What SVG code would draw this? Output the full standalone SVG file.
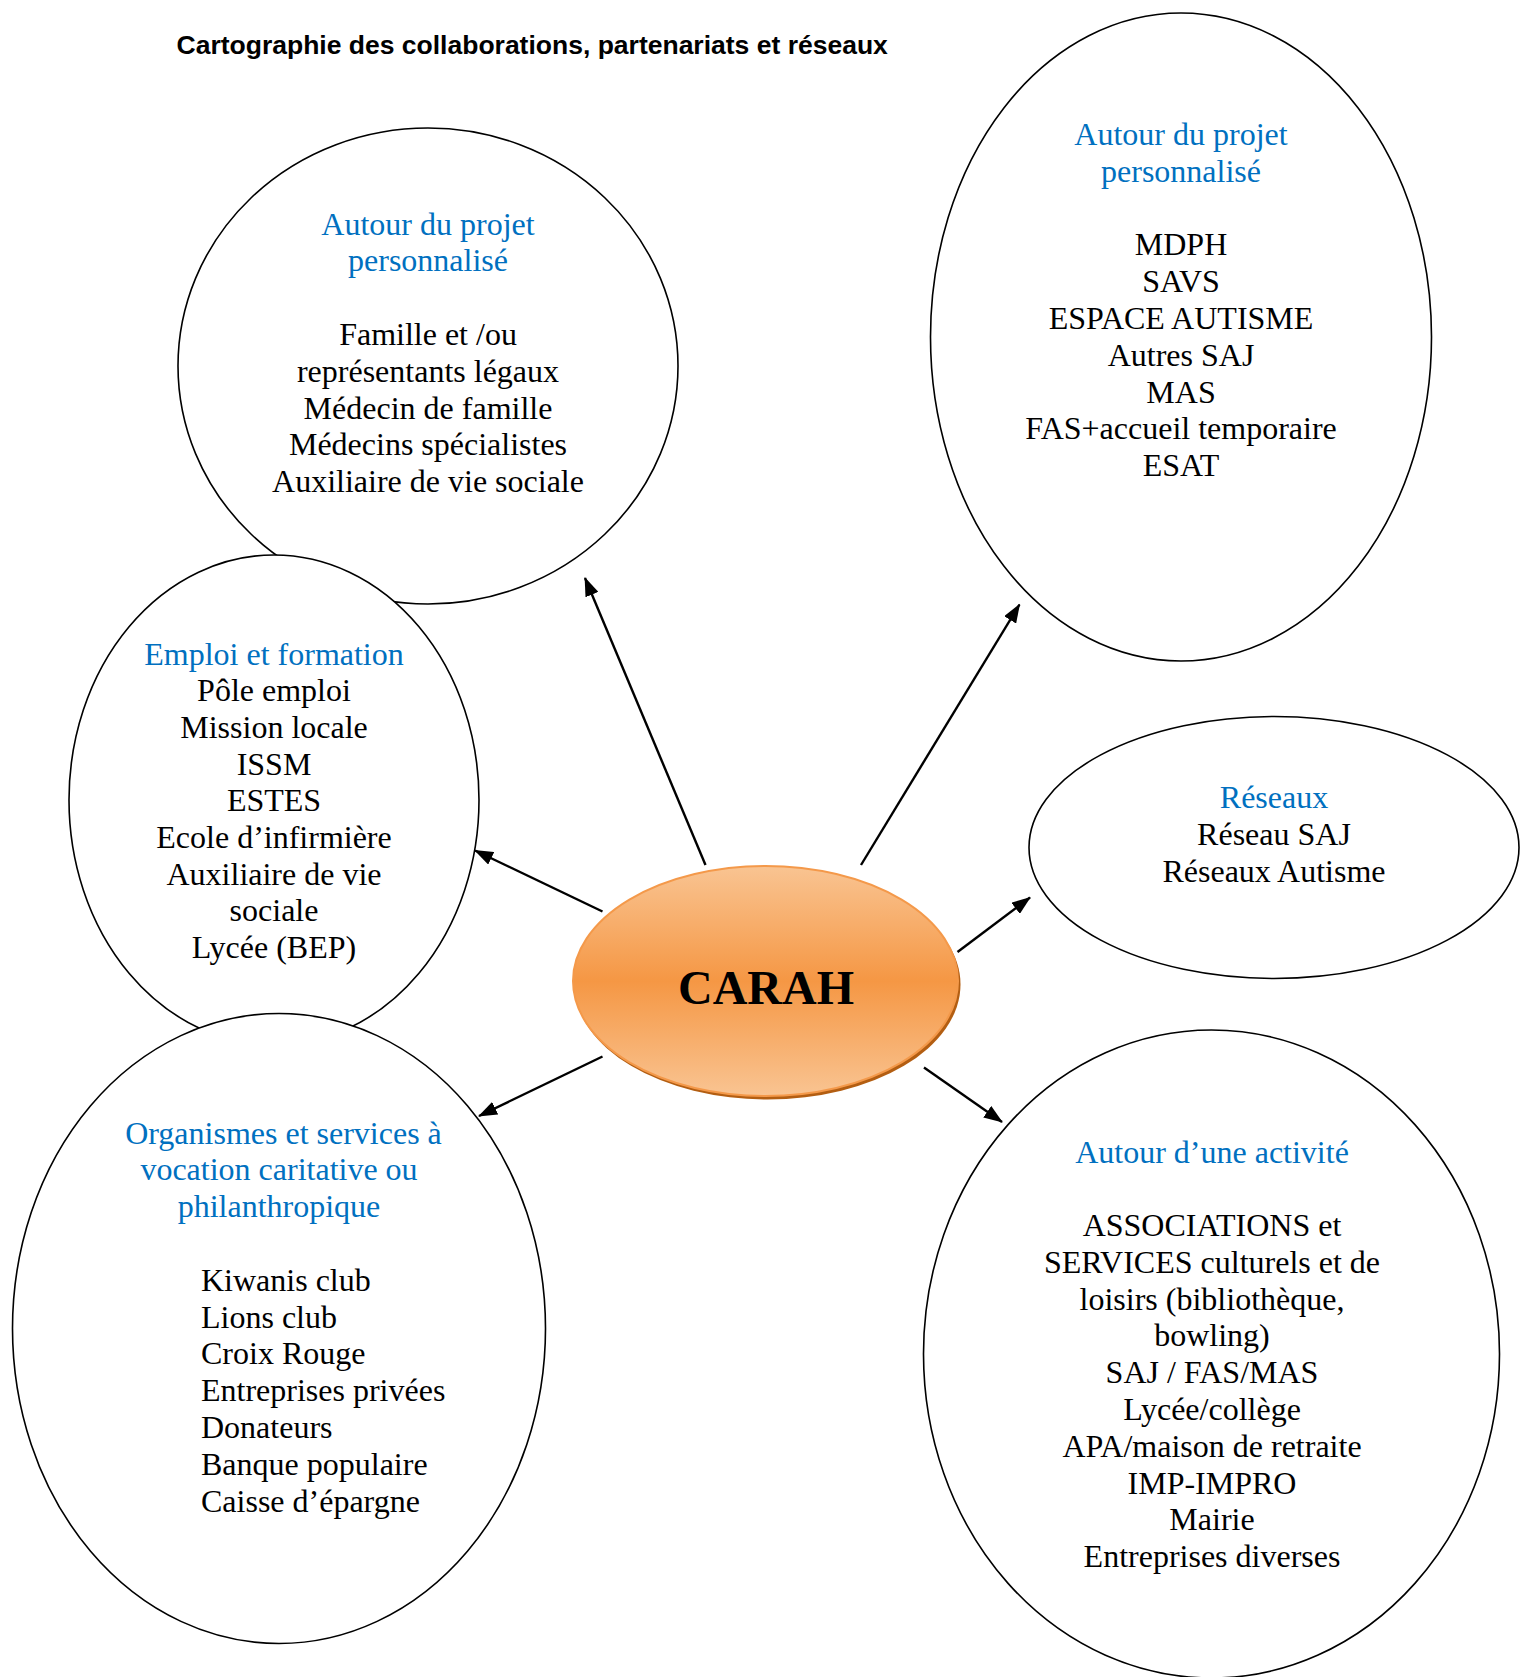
<svg xmlns="http://www.w3.org/2000/svg" width="1520" height="1677" viewBox="0 0 1520 1677">
<style>
.bubble{fill:#ffffff;stroke:#000000;stroke-width:1.6}
.t{font-family:"Liberation Serif","Times New Roman",serif;font-size:32px;fill:#000000;text-anchor:middle}
.h{fill:#0070c0}
.l{text-anchor:start}
.title{font-family:"Liberation Sans",Arial,sans-serif;font-weight:bold;font-size:26.5px;fill:#000000}
.conn{stroke:#000000;stroke-width:2.4;fill:none;marker-end:url(#arrow)}
</style>
<defs>
<marker id="arrow" markerUnits="userSpaceOnUse" markerWidth="19" markerHeight="14" viewBox="0 0 19 14" refX="18" refY="7" orient="auto">
<path d="M0,0 L19,7 L0,14 z" fill="#000000"/>
</marker>
<linearGradient id="orange" x1="0" y1="0" x2="0" y2="1">
<stop offset="0" stop-color="#f9c492"/>
<stop offset="0.5" stop-color="#f59744"/>
<stop offset="1" stop-color="#f9c492"/>
</linearGradient>
</defs>
<rect width="1520" height="1677" fill="#ffffff"/>
<text class="title" x="176.5" y="53.5">Cartographie des collaborations, partenariats et réseaux</text>

<g id="node-projet-gauche">
<ellipse class="bubble" cx="428" cy="366" rx="250" ry="238"/>
<text class="t h" x="428" y="234.5">Autour du projet</text>
<text class="t h" x="428" y="271.3">personnalisé</text>
<text class="t" x="428" y="345">Famille et /ou</text>
<text class="t" x="428" y="381.8">représentants légaux</text>
<text class="t" x="428" y="418.6">Médecin de famille</text>
<text class="t" x="428" y="455.4">Médecins spécialistes</text>
<text class="t" x="428" y="492.2">Auxiliaire de vie sociale</text>
</g>

<g id="node-emploi">
<ellipse class="bubble" cx="274" cy="800" rx="205" ry="245"/>
<text class="t h" x="274" y="664.5">Emploi et formation</text>
<text class="t" x="274" y="701.2">Pôle emploi</text>
<text class="t" x="274" y="737.9">Mission locale</text>
<text class="t" x="274" y="774.6">ISSM</text>
<text class="t" x="274" y="811.3">ESTES</text>
<text class="t" x="274" y="848">Ecole d’infirmière</text>
<text class="t" x="274" y="884.7">Auxiliaire de vie</text>
<text class="t" x="274" y="921.4">sociale</text>
<text class="t" x="274" y="958.1">Lycée (BEP)</text>
</g>

<g id="node-organismes">
<ellipse class="bubble" cx="279" cy="1328.5" rx="266.5" ry="315"/>
<text class="t h" x="283.5" y="1143.5">Organismes et services à</text>
<text class="t h" x="279" y="1180.3">vocation caritative ou</text>
<text class="t h" x="279" y="1217.1">philanthropique</text>
<text class="t l" x="201" y="1290.7">Kiwanis club</text>
<text class="t l" x="201" y="1327.5">Lions club</text>
<text class="t l" x="201" y="1364.3">Croix Rouge</text>
<text class="t l" x="201" y="1401.1">Entreprises privées</text>
<text class="t l" x="201" y="1437.9">Donateurs</text>
<text class="t l" x="201" y="1474.7">Banque populaire</text>
<text class="t l" x="201" y="1511.5">Caisse d’épargne</text>
</g>

<g id="node-projet-droite">
<ellipse class="bubble" cx="1181" cy="337" rx="250.5" ry="324"/>
<text class="t h" x="1181" y="145">Autour du projet</text>
<text class="t h" x="1181" y="181.8">personnalisé</text>
<text class="t" x="1181" y="255.4">MDPH</text>
<text class="t" x="1181" y="292.2">SAVS</text>
<text class="t" x="1181" y="329">ESPACE AUTISME</text>
<text class="t" x="1181" y="365.8">Autres SAJ</text>
<text class="t" x="1181" y="402.6">MAS</text>
<text class="t" x="1181" y="439.4">FAS+accueil temporaire</text>
<text class="t" x="1181" y="476.2">ESAT</text>
</g>

<g id="node-reseaux">
<ellipse class="bubble" cx="1274" cy="847.5" rx="245" ry="131"/>
<text class="t h" x="1274" y="807.5">Réseaux</text>
<text class="t" x="1274" y="844.5">Réseau SAJ</text>
<text class="t" x="1274" y="882">Réseaux Autisme</text>
</g>

<g id="node-activite">
<ellipse class="bubble" cx="1211.5" cy="1354" rx="288" ry="324"/>
<text class="t h" x="1212" y="1162.5">Autour d’une activité</text>
<text class="t" x="1212" y="1236">ASSOCIATIONS et</text>
<text class="t" x="1212" y="1272.8">SERVICES culturels et de</text>
<text class="t" x="1212" y="1309.6">loisirs (bibliothèque,</text>
<text class="t" x="1212" y="1346.4">bowling)</text>
<text class="t" x="1212" y="1383.2">SAJ / FAS/MAS</text>
<text class="t" x="1212" y="1420">Lycée/collège</text>
<text class="t" x="1212" y="1456.8">APA/maison de retraite</text>
<text class="t" x="1212" y="1493.6">IMP-IMPRO</text>
<text class="t" x="1212" y="1530.4">Mairie</text>
<text class="t" x="1212" y="1567.2">Entreprises diverses</text>
</g>

<g id="node-carah">
<ellipse cx="767.5" cy="984.5" rx="193" ry="115" fill="#b35e12"/>
<ellipse cx="765.5" cy="981" rx="192.5" ry="115" fill="url(#orange)" stroke="#f4994a" stroke-width="2"/>
<text x="766" y="1003.5" text-anchor="middle" font-family="'Liberation Serif','Times New Roman',serif" font-weight="bold" font-size="48" fill="#000000">CARAH</text>
</g>

<g id="connectors">
<line class="conn" x1="705.5" y1="865" x2="585" y2="578"/>
<line class="conn" x1="861" y1="865" x2="1019.5" y2="604.5"/>
<line class="conn" x1="602.5" y1="911.5" x2="475" y2="850.5"/>
<line class="conn" x1="602.5" y1="1056.5" x2="479" y2="1116"/>
<line class="conn" x1="957.5" y1="952" x2="1030" y2="897.5"/>
<line class="conn" x1="924" y1="1067.5" x2="1002" y2="1122"/>
</g>
</svg>
